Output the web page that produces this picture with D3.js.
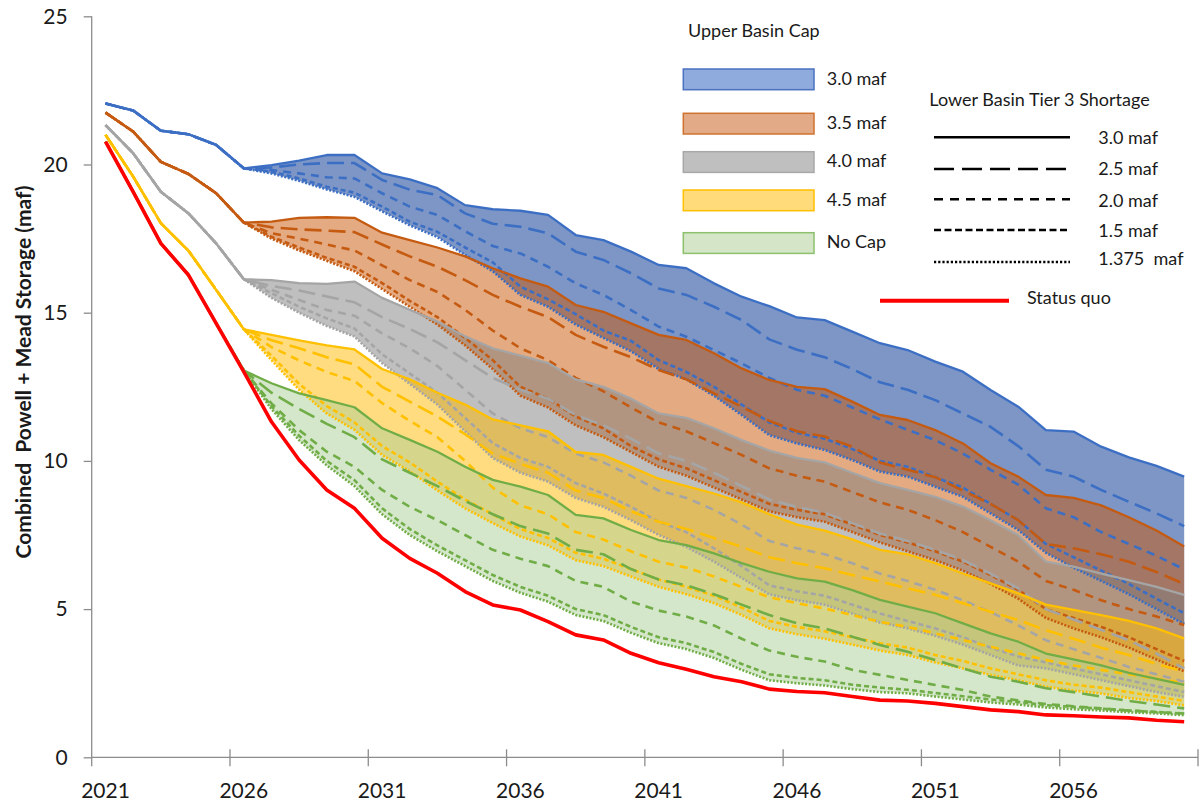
<!DOCTYPE html>
<html><head><meta charset="utf-8">
<script src="https://cdn.jsdelivr.net/npm/d3@7"></script>
<style>
body{margin:0;background:#fff;}
svg{display:block;}
text{font-family:Lato,"Open Sans",sans-serif;fill:#1a1a1a;white-space:pre;}
</style>
</head><body>
<svg id="c" width="1202" height="803"></svg>
<script>
// ---------------- DATA ----------------
const years = [2021,2022,2023,2024,2025,2026,2027,2028,2029,2030,2031,2032,2033,2034,2035,2036,2037,2038,2039,2040,
               2041,2042,2043,2044,2045,2046,2047,2048,2049,2050,2051,2052,2053,2054,2055,2056,2057,2058,2059,2060];
const xTickLabels = [2021,2026,2031,2036,2041,2046,2051,2056];
const yTicks = [0,5,10,15,20,25];

// common trajectory 2021-2026 for each Upper Basin cap
const blueStart   = [22.06,21.82,21.14,21.02,20.66,19.87];
const orangeStart = [21.75,21.11,20.09,19.68,19.03,18.04];
const grayStart   = [21.33,20.38,19.08,18.35,17.34,16.13];
const yellowStart = [21.00,19.59,18.02,17.09,15.77,14.44];
const greenStart  = [20.77,19.08,17.34,16.27,14.64,13.05];

// 2027-2060 values for each Lower Basin Tier 3 shortage (3.0, 2.5, 2.0, 1.5, 1.375 maf)
const blue30   = [19.98,20.13,20.32,20.32,19.70,19.50,19.20,18.63,18.49,18.44,18.30,17.62,17.45,17.06,16.61,16.50,15.99,15.54,15.22,14.84,14.75,14.36,13.97,13.74,13.35,13.01,12.39,11.83,11.04,10.99,10.48,10.12,9.83,9.47];
const blue25   = [19.90,20.00,20.05,20.05,19.48,19.15,18.97,18.35,18.00,17.90,17.68,17.06,16.78,16.33,15.82,15.60,15.20,14.75,14.10,13.75,13.50,13.10,12.65,12.40,12.05,11.60,11.15,10.50,9.70,9.47,9.02,8.62,8.23,7.80];
const blue20   = [19.81,19.70,19.57,19.53,19.03,18.58,18.30,17.75,17.25,17.00,16.55,15.99,15.60,15.09,14.53,14.19,13.74,13.29,12.80,12.40,12.20,11.80,11.40,11.05,10.70,10.25,9.70,9.20,8.40,8.10,7.60,7.20,6.80,6.34];
const blue15   = [19.76,19.53,19.25,19.05,18.58,18.07,17.73,17.20,16.70,15.88,15.45,14.95,14.40,14.05,13.40,13.00,12.50,11.90,11.30,10.95,10.75,10.40,10.00,9.80,9.45,9.10,8.55,8.00,7.20,6.75,6.30,5.85,5.35,4.86];
const blue1375 = [19.70,19.45,19.16,18.91,18.42,17.95,17.55,16.95,16.40,15.60,15.20,14.60,14.15,13.70,13.10,12.75,12.20,11.55,10.87,10.59,10.37,10.03,9.64,9.47,9.13,8.79,8.23,7.67,6.90,6.40,5.95,5.50,5.00,4.50];

const orange30   = [18.07,18.20,18.22,18.20,17.70,17.45,17.20,16.90,16.50,16.16,15.88,15.26,15.03,14.64,14.25,14.08,13.63,13.12,12.73,12.50,12.42,12.00,11.55,11.38,11.04,10.59,9.92,9.47,8.85,8.75,8.50,8.10,7.65,7.11];
const orange25   = [17.88,17.81,17.77,17.72,17.30,16.90,16.55,16.10,15.60,15.20,14.85,14.25,13.85,13.50,13.07,12.75,12.28,11.83,11.35,11.00,10.82,10.48,9.95,9.70,9.45,9.00,8.55,8.00,7.20,7.05,6.85,6.60,6.25,5.85];
const orange20   = [17.68,17.50,17.30,17.10,16.60,16.10,15.70,15.10,14.40,13.80,13.40,12.80,12.35,11.80,11.30,11.00,10.60,10.20,9.75,9.50,9.30,8.95,8.60,8.35,8.00,7.60,7.10,6.60,5.95,5.65,5.30,5.00,4.75,4.46];
const orange15   = [17.56,17.20,16.85,16.55,16.00,15.40,14.85,14.15,13.40,12.50,12.10,11.50,11.10,10.50,10.05,9.75,9.35,8.95,8.55,8.35,8.20,7.85,7.50,7.25,6.95,6.60,6.15,5.65,5.00,4.70,4.40,4.05,3.65,3.25];
const orange1375 = [17.50,17.10,16.75,16.40,15.80,15.20,14.60,13.90,13.10,12.20,11.80,11.20,10.80,10.30,9.80,9.50,9.10,8.70,8.30,8.10,7.95,7.60,7.25,6.95,6.65,6.30,5.85,5.35,4.70,4.35,4.05,3.70,3.30,2.90];

const gray30   = [16.10,16.00,15.97,16.05,15.50,15.10,14.70,14.20,13.80,13.55,13.30,12.75,12.50,12.10,11.60,11.45,11.10,10.70,10.35,10.10,9.95,9.60,9.25,9.02,8.79,8.46,8.00,7.50,6.60,6.43,6.20,5.98,5.75,5.48];
const gray25   = [15.90,15.75,15.55,15.35,14.85,14.45,14.00,13.40,12.80,12.40,12.10,11.55,11.20,10.75,10.25,10.00,9.60,9.15,8.70,8.45,8.25,7.90,7.55,7.30,7.00,6.65,6.20,5.70,5.00,4.65,4.30,3.95,3.50,3.00];
const gray20   = [15.77,15.43,15.09,14.90,14.30,13.80,13.20,12.40,11.60,11.10,10.80,10.25,9.95,9.50,9.00,8.75,8.35,7.85,7.30,7.05,6.85,6.55,6.20,5.95,5.65,5.30,4.90,4.45,3.95,3.65,3.35,3.05,2.80,2.55];
const gray15   = [15.66,15.20,14.81,14.47,13.60,12.95,12.30,11.45,10.60,10.10,9.80,9.25,8.90,8.45,7.95,7.60,7.05,6.45,5.80,5.60,5.45,5.15,4.85,4.60,4.35,4.05,3.70,3.40,3.20,3.00,2.80,2.60,2.40,2.20];
const gray1375 = [15.50,15.00,14.55,14.20,13.30,12.60,11.90,11.00,10.10,9.60,9.30,8.75,8.45,8.00,7.50,7.10,6.60,6.05,5.50,5.30,5.15,4.85,4.55,4.35,4.10,3.80,3.45,3.10,3.00,2.80,2.60,2.40,2.20,2.04];

const yellow30   = [14.25,14.07,13.90,13.76,13.10,12.75,12.30,11.90,11.40,11.20,11.00,10.30,10.20,9.80,9.40,9.15,8.90,8.60,8.20,7.85,7.65,7.35,7.00,6.85,6.55,6.20,5.87,5.53,5.15,4.97,4.80,4.60,4.35,4.01];
const yellow25   = [14.07,13.80,13.50,13.26,12.50,12.00,11.50,10.90,10.25,9.90,9.60,9.00,8.75,8.30,7.95,7.70,7.40,7.10,6.75,6.55,6.38,6.15,5.93,5.70,5.48,5.20,4.91,4.63,4.29,4.00,3.70,3.45,3.15,2.89];
const yellow20   = [13.84,13.39,13.00,12.70,11.95,11.35,10.80,10.00,9.10,8.50,8.20,7.60,7.35,6.95,6.60,6.40,6.10,5.75,5.40,5.20,5.02,4.80,4.57,4.40,4.18,3.96,3.73,3.51,3.28,3.10,2.95,2.80,2.65,2.50];
const yellow15   = [13.55,12.60,11.85,11.30,10.50,9.95,9.30,8.70,8.20,7.70,7.40,6.90,6.70,6.35,6.00,5.75,5.45,5.05,4.60,4.40,4.25,4.05,3.85,3.70,3.45,3.25,3.00,2.80,2.60,2.45,2.35,2.20,2.05,1.90];
const yellow1375 = [13.40,12.40,11.60,11.05,10.20,9.65,9.00,8.40,7.90,7.45,7.15,6.65,6.45,6.10,5.75,5.50,5.20,4.80,4.35,4.15,4.00,3.80,3.60,3.45,3.20,3.00,2.78,2.60,2.38,2.25,2.15,2.00,1.90,1.75];

const green30   = [12.62,12.28,12.05,11.81,11.10,10.71,10.31,9.80,9.36,9.13,8.85,8.18,8.06,7.67,7.33,7.16,6.88,6.55,6.26,6.04,5.93,5.64,5.31,5.08,4.86,4.52,4.18,3.90,3.50,3.30,3.10,2.85,2.65,2.44];
const green25   = [12.30,11.75,11.25,10.80,10.05,9.60,9.15,8.65,8.20,7.80,7.55,7.00,6.85,6.35,6.00,5.80,5.50,5.15,4.80,4.52,4.35,4.07,3.79,3.56,3.28,3.00,2.72,2.55,2.33,2.20,2.05,1.90,1.78,1.65];
const green20   = [11.94,11.04,10.31,9.80,9.02,8.45,8.00,7.50,7.00,6.70,6.45,5.95,5.75,5.25,4.95,4.75,4.45,4.00,3.60,3.39,3.23,2.95,2.78,2.61,2.44,2.27,2.05,1.92,1.80,1.72,1.65,1.58,1.52,1.48];
const green15   = [11.85,10.85,10.00,9.35,8.40,7.70,7.15,6.65,6.15,5.75,5.45,5.00,4.80,4.40,4.05,3.85,3.55,3.15,2.80,2.68,2.60,2.45,2.35,2.28,2.17,2.06,1.95,1.87,1.76,1.70,1.64,1.58,1.53,1.47];
const green1375 = [11.75,10.70,9.85,9.15,8.20,7.50,6.95,6.45,5.95,5.55,5.25,4.80,4.60,4.20,3.85,3.65,3.35,2.95,2.60,2.50,2.42,2.30,2.20,2.16,2.05,1.95,1.85,1.78,1.68,1.62,1.58,1.52,1.48,1.42];

const statusQuo = [20.77,19.08,17.34,16.27,14.64,13.00,11.32,10.03,9.02,8.40,7.39,6.71,6.21,5.59,5.14,4.97,4.58,4.13,3.96,3.51,
                   3.19,2.97,2.72,2.55,2.30,2.22,2.18,2.05,1.93,1.90,1.82,1.71,1.60,1.54,1.43,1.40,1.36,1.33,1.25,1.20];

const capLabels = ["3.0 maf","3.5 maf","4.0 maf","4.5 maf","No Cap"];
const shortageLabels = ["3.0 maf","2.5 maf","2.0 maf","1.5 maf","1.375  maf"];

// ---------------- CHART ----------------
const svg = d3.select('#c');
const x = d3.scaleLinear().domain([2020.5, 2060.5]).range([91.7, 1198]);
const y = d3.scaleLinear().domain([0, 25]).range([757.3, 16.3]);

const bands = [
  {start: blueStart,   levels: [blue30, blue25, blue20, blue15, blue1375],             line: '#3c6fc4', fill: '#123f98', op: 0.55, sw: '#8faadc', st: '#4a72c0'},
  {start: orangeStart, levels: [orange30, orange25, orange20, orange15, orange1375],   line: '#c55a11', fill: '#c95505', op: 0.5,  sw: '#e2aa86', st: '#d0722f'},
  {start: grayStart,   levels: [gray30, gray25, gray20, gray15, gray1375],             line: '#a5a5a5', fill: '#7f7f7f', op: 0.5,  sw: '#bfbfbf', st: '#a8a8a8'},
  {start: yellowStart, levels: [yellow30, yellow25, yellow20, yellow15, yellow1375],   line: '#ffc000', fill: '#ffb900', op: 0.5,  sw: '#ffdb79', st: '#ffc000'},
  {start: greenStart,  levels: [green30, green25, green20, green15, green1375],        line: '#70ad47', fill: '#abcf97', op: 0.5,  sw: '#d5e5c8', st: '#8cc06c'}
];
const chartDash = [null, '17,7', '8,6', '5,3', '2,1.6'];
const legendDash = [null, '20,8', '9,7', '7,3.5', '2.2,2'];

const axisColor = '#8c8c8c';
const g = svg.append('g');

// areas (between 3.0 and 1.375 maf shortage lines, 2026 onward)
const idx = d3.range(5, years.length);
bands.forEach(b => {
  const top = b.start.concat(b.levels[0]);
  const bot = b.start.concat(b.levels[4]);
  const area = d3.area()
    .x(i => x(years[i]))
    .y0(i => y(bot[i]))
    .y1(i => y(top[i]));
  g.append('path').attr('d', area(idx))
    .attr('fill', b.fill).attr('fill-opacity', b.op);
});

// lines
const lineGen = d3.line().x((d, i) => x(years[i])).y(d => y(d));
bands.forEach(b => {
  [4, 3, 2, 1, 0].forEach(k => {
    const vals = b.start.concat(b.levels[k]);
    g.append('path').attr('d', lineGen(vals))
      .attr('fill', 'none').attr('stroke', b.line)
      .attr('stroke-width', k === 0 ? 2.3 : 2.6)
      .attr('stroke-linejoin', 'round')
      .attr('stroke-dasharray', chartDash[k]);
  });
});
g.append('path').attr('d', lineGen(statusQuo))
  .attr('fill', 'none').attr('stroke', '#ff0000').attr('stroke-width', 3.6)
  .attr('stroke-linejoin', 'round');

// y axis
const yAxis = svg.append('g').attr('transform', `translate(${x(2020.5)},0)`)
  .call(d3.axisLeft(y).tickValues(yTicks).tickSize(8).tickPadding(16).tickFormat(d3.format('d')));
yAxis.select('.domain').attr('stroke', axisColor).attr('stroke-width', 1.3).attr('d', `M0,${y(25)}V${y(0)}`);
yAxis.selectAll('.tick line').attr('stroke', axisColor).attr('stroke-width', 1.3);
yAxis.selectAll('.tick text').style('font-family', 'Lato').style('font-size', '21px').attr('fill', '#1a1a1a');

// x axis: ticks at category boundaries every 5 years, labels at category centres
const xb = svg.append('g').attr('transform', `translate(0,${y(0)})`);
xb.append('line').attr('x1', x(2020.5)).attr('x2', x(2060.5)).attr('y1', 0).attr('y2', 0)
  .attr('stroke', axisColor).attr('stroke-width', 1.3);
const boundaries = xTickLabels.map(v => v - 0.5).concat([2060.5]);
xb.selectAll('line.tk').data(boundaries).join('line').attr('class', 'tk')
  .attr('x1', d => x(d)).attr('x2', d => x(d))
  .attr('y1', (d, i) => i === 0 ? 0 : -8).attr('y2', 9)
  .attr('stroke', axisColor).attr('stroke-width', 1.3);
xb.selectAll('text').data(xTickLabels).join('text')
  .attr('x', d => x(d)).attr('y', 40.5).attr('text-anchor', 'middle')
  .style('font-size', '21px').text(d => d);

// y title
svg.append('text').attr('transform', 'translate(31,372) rotate(-90)')
  .attr('text-anchor', 'middle').style('font-size', '21px').style('font-weight', 'bold')
  .text('Combined  Powell + Mead Storage (maf)');

// legend: Upper Basin Cap
const leg = svg.append('g');
leg.append('text').attr('x', 688).attr('y', 37).style('font-size', '18px').text('Upper Basin Cap');
const swY = [69, 113.3, 151.7, 190, 232.7];
const capBase = [85, 129, 167.3, 205.7, 248.3];
bands.forEach((b, i) => {
  leg.append('rect').attr('x', 683.3).attr('y', swY[i]).attr('width', 130.7).attr('height', 20.7)
    .attr('fill', b.sw).attr('stroke', b.st).attr('stroke-width', 1.5);
  leg.append('text').attr('x', 826.7).attr('y', capBase[i]).style('font-size', '18px').text(capLabels[i]);
});

// legend: Lower Basin Tier 3 Shortage
leg.append('text').attr('x', 929.3).attr('y', 106).style('font-size', '18px').text('Lower Basin Tier 3 Shortage');
const lnY = [137.3, 169, 199.3, 230, 262];
const lbBase = [144, 175, 206.7, 236.7, 265];
shortageLabels.forEach((s, i) => {
  leg.append('line').attr('x1', 934).attr('x2', 1070).attr('y1', lnY[i]).attr('y2', lnY[i])
    .attr('stroke', '#000').attr('stroke-width', i === 4 ? 2.4 : 2.6)
    .attr('stroke-dasharray', legendDash[i]);
  leg.append('text').attr('x', 1098.3).attr('y', lbBase[i]).style('font-size', '18px').text(s);
});

// legend: status quo
leg.append('line').attr('x1', 880).attr('x2', 1009).attr('y1', 300.7).attr('y2', 300.7)
  .attr('stroke', '#ff0000').attr('stroke-width', 4);
leg.append('text').attr('x', 1027).attr('y', 304).style('font-size', '18px').text('Status quo');
</script>
</body></html>
